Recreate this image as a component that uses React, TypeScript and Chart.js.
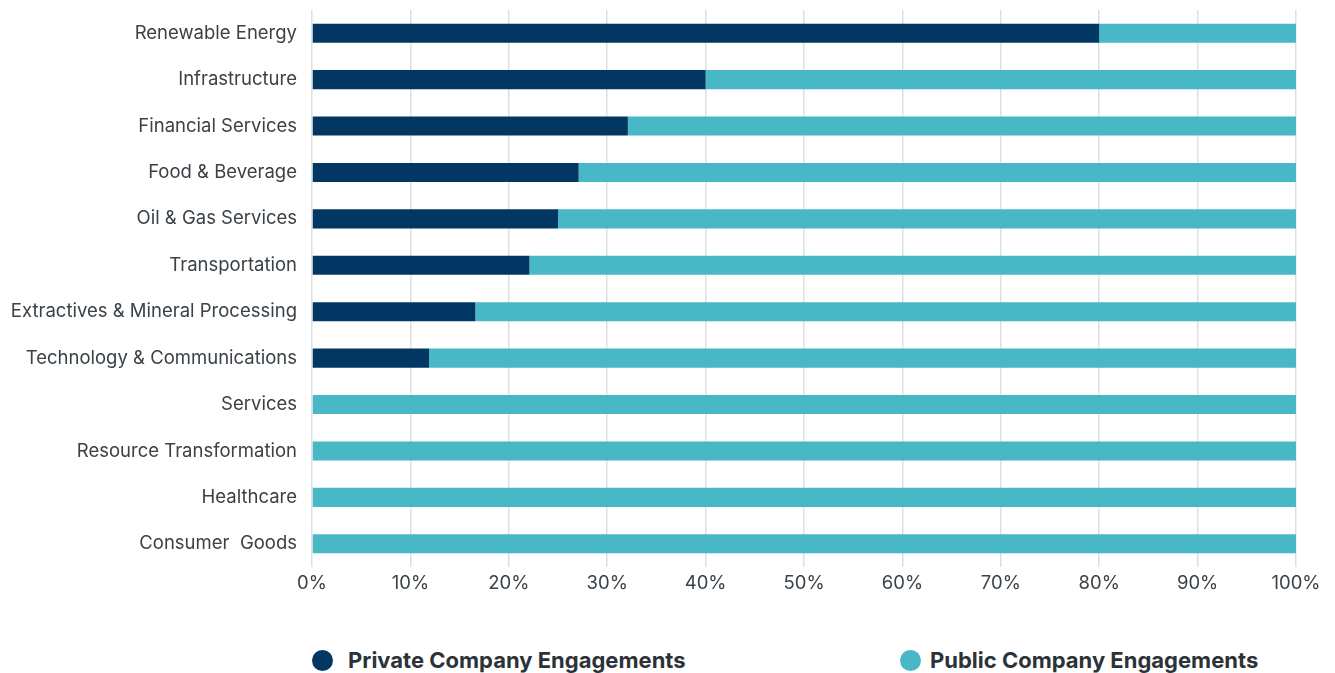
import React, { useEffect, useRef } from "react";
import { Chart, registerables } from "chart.js";

Chart.register(...registerables);

const categories = [
  "Renewable Energy",
  "Infrastructure",
  "Financial Services",
  "Food & Beverage",
  "Oil & Gas Services",
  "Transportation",
  "Extractives & Mineral Processing",
  "Technology & Communications",
  "Services",
  "Resource Transformation",
  "Healthcare",
  "Consumer  Goods",
];

const privateValues = [80, 40, 32.1, 27.1, 25, 22.1, 16.6, 11.9, 0, 0, 0, 0];
const publicValues = privateValues.map((v) => 100 - v);

const seriesNames = ["Private Company Engagements", "Public Company Engagements"];
const seriesColors = ["#023763", "#48b8c6"];
const FONT = "Inter, 'Noto Sans', sans-serif";

export default function App() {
  const ref = useRef<HTMLCanvasElement | null>(null);

  useEffect(() => {
    if (!ref.current) return;
    const chart = new Chart(ref.current, {
      type: "bar",
      data: {
        labels: categories,
        datasets: [
          {
            label: seriesNames[0],
            data: privateValues,
            backgroundColor: seriesColors[0],
            barPercentage: 0.82,
            categoryPercentage: 0.5,
          },
          {
            label: seriesNames[1],
            data: publicValues,
            backgroundColor: seriesColors[1],
            barPercentage: 0.82,
            categoryPercentage: 0.5,
          },
        ],
      },
      options: {
        indexAxis: "y",
        animation: false,
        responsive: false,
        maintainAspectRatio: false,
        layout: { padding: { top: 10, right: 39, left: 0, bottom: 0 } },
        plugins: {
          legend: { display: false },
          tooltip: { enabled: false },
        },
        scales: {
          x: {
            stacked: true,
            min: 0,
            max: 100,
            ticks: {
              stepSize: 10,
              callback: (v: any) => v + "%",
              color: "#3a4248",
              font: { family: FONT, size: 18.5 },
              padding: 5,
            },
            grid: { color: "#dde0e2", lineWidth: 1.5, drawTicks: false },
            border: { display: false },
            afterFit: (s: any) => {
              s.height = 33;
            },
          },
          y: {
            stacked: true,
            ticks: {
              color: "#3a4248",
              font: { family: FONT, size: 18.5 },
              padding: 15,
            },
            grid: { display: false, tickLength: 0 },
            border: { display: false },
            afterFit: (s: any) => {
              s.width = 312;
              s.paddingTop = 0;
              s.paddingBottom = 0;
            },
          },
        },
      },
    });
    return () => chart.destroy();
  }, []);

  const legendText: React.CSSProperties = {
    position: "absolute",
    top: 645,
    fontFamily: FONT,
    fontWeight: 700,
    fontSize: 22,
    color: "#2b3338",
    lineHeight: "30px",
    whiteSpace: "nowrap",
  };
  const dot = (left: number, color: string): React.CSSProperties => ({
    position: "absolute",
    left,
    top: 650,
    width: 21,
    height: 21,
    borderRadius: "50%",
    background: color,
  });

  return (
    <div style={{ position: "absolute", left: 0, top: 0, width: 1335, height: 673, background: "#fff" }}>
      <canvas ref={ref} width={1335} height={600} style={{ position: "absolute", left: 0, top: 0 }} />
      <div style={dot(312, seriesColors[0])} />
      <div style={{ ...legendText, left: 348 }}>{seriesNames[0]}</div>
      <div style={dot(900, seriesColors[1])} />
      <div style={{ ...legendText, left: 930 }}>{seriesNames[1]}</div>
    </div>
  );
}
